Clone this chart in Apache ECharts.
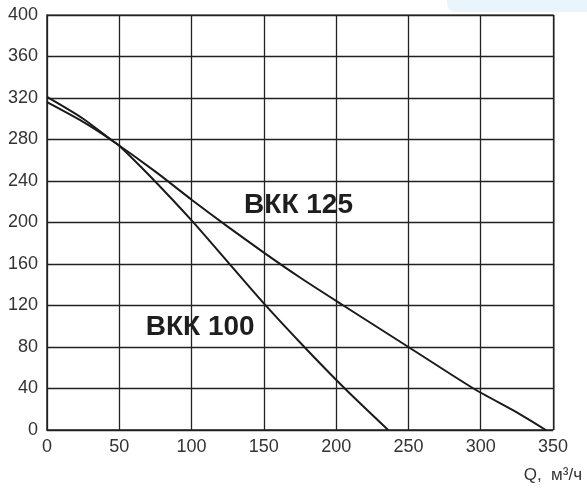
<!DOCTYPE html>
<html>
<head>
<meta charset="utf-8">
<script src="https://cdn.jsdelivr.net/npm/echarts@6/dist/echarts.min.js"></script>
<style>html,body{margin:0;padding:0;background:#fff;}#c{width:587px;height:496px;}</style>
</head>
<body>
<div id="c"></div>
<script>
var xTicks = [0, 50, 100, 150, 200, 250, 300, 350];
var yTicks = [0, 40, 80, 120, 160, 200, 240, 280, 320, 360, 400];
var bkk100Q = [0, 25, 45, 50, 71, 100, 125, 150, 178, 206, 236];
var bkk100H = [321, 300, 279, 274, 245, 202, 162, 122, 80, 40, 0];
var bkk125Q = [0, 25, 45, 75, 100, 125, 150, 175, 205, 250, 295, 325, 345];
var bkk125H = [316, 297, 279, 249, 222, 196, 171, 147, 120, 80, 40, 17, 0];
var labelNames = ['ВКК 100', 'ВКК 125'];
var labelPos = [[106, 99], [174, 217]];
var axisName = 'Q,  м³/ч';

function pairs(xs, ys) { return xs.map(function (x, i) { return [x, ys[i]]; }); }

var chart = echarts.init(document.getElementById('c'));
var gridColor = '#222';
var font = 'Liberation Sans, Arial, sans-serif';
function mkLabel(i) {
  return {
    data: [{ coord: labelPos[i], value: labelNames[i] }],
    symbol: 'circle', symbolSize: 0, silent: true,
    label: { show: true, position: 'inside', formatter: labelNames[i], color: '#1e1e1e',
      fontFamily: font, fontWeight: 'bold', fontSize: 28 }
  };
}
chart.setOption({
  animation: false,
  grid: { left: 47, right: 34, top: 15, bottom: 66 },
  xAxis: {
    type: 'value', min: 0, max: 350, interval: 50,
    axisLine: { show: true, onZero: false, lineStyle: { color: gridColor, width: 1.5 } },
    axisTick: { show: false },
    axisLabel: { color: '#333', fontSize: 18, fontFamily: font, margin: 8 },
    splitLine: { show: true, lineStyle: { color: gridColor, width: 1.3 } }
  },
  yAxis: {
    type: 'value', min: 0, max: 400, interval: 40,
    axisLine: { show: true, lineStyle: { color: gridColor, width: 1.5 } },
    axisTick: { show: false },
    axisLabel: { color: '#333', fontSize: 18, fontFamily: font, margin: 9 },
    splitLine: { show: true, lineStyle: { color: gridColor, width: 1.3 } }
  },
  graphic: [
    { type: 'rect', right: -10, top: -12, shape: { width: 150, height: 24, r: 8 }, style: { fill: '#eaf5fb' }, silent: true },
    { type: 'rect', left: 553, top: 15, shape: { width: 1.5, height: 415 }, style: { fill: gridColor }, silent: true },
    { type: 'rect', left: 47, top: 14.5, shape: { width: 507, height: 1.5 }, style: { fill: gridColor }, silent: true },
    { type: 'text', right: 5, top: 467, style: { text: axisName, fill: '#333', font: '17px Liberation Sans, Arial, sans-serif' } }
  ],
  series: [
    { name: labelNames[0], type: 'line', data: pairs(bkk100Q, bkk100H), smooth: 0.25, showSymbol: false,
      lineStyle: { color: '#1a1a1a', width: 2 }, markPoint: mkLabel(0) },
    { name: labelNames[1], type: 'line', data: pairs(bkk125Q, bkk125H), smooth: 0.25, showSymbol: false,
      lineStyle: { color: '#1a1a1a', width: 2 }, markPoint: mkLabel(1) }
  ]
});
</script>
</body>
</html>
